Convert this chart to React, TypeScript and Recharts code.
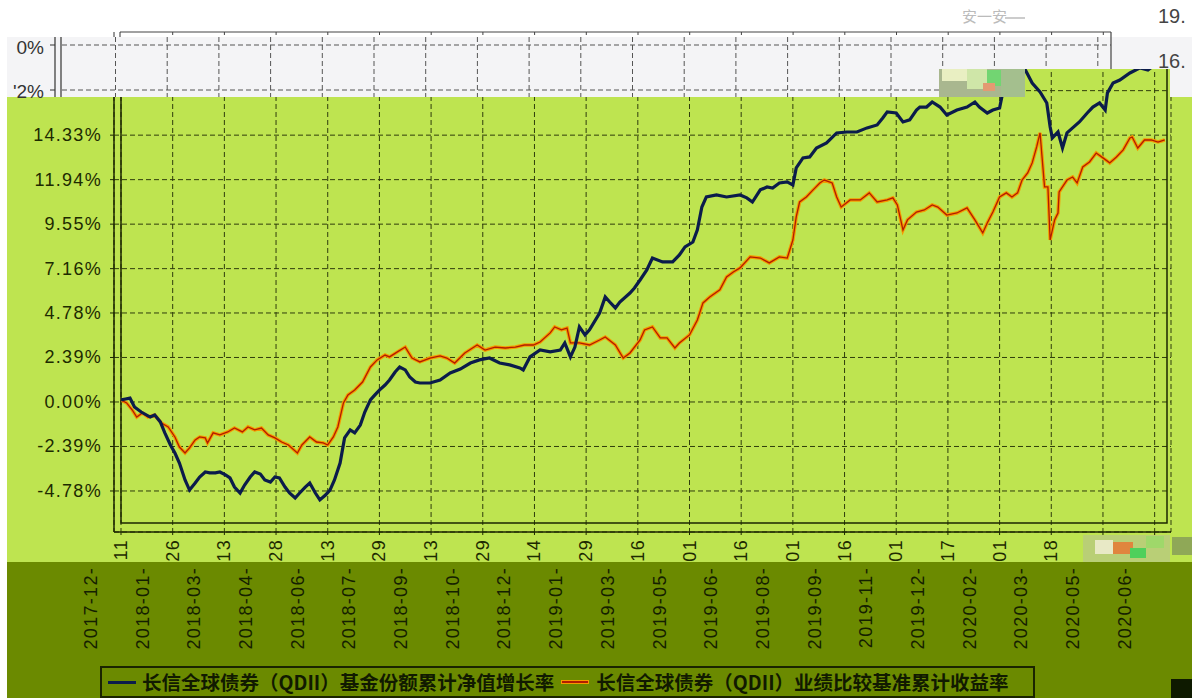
import React from 'react';
import { CartesianGrid, Line, LineChart, ReferenceArea, ReferenceLine, XAxis, YAxis } from 'recharts';

// tick dates every 46 calendar days, starting 2017-12-11
const tickDates = [
  '2017-12-11', '2018-01-26', '2018-03-13', '2018-04-28', '2018-06-13', '2018-07-29', '2018-09-13',
  '2018-10-29', '2018-12-14', '2019-01-29', '2019-03-16', '2019-05-01', '2019-06-16', '2019-08-01',
  '2019-09-16', '2019-11-01', '2019-12-17', '2020-02-01', '2020-03-18', '2020-05-03', '2020-06-18',
];

const yTicks = [-4.78, -2.39, 0, 2.39, 4.78, 7.16, 9.55, 11.94, 14.33];
// upper grid levels whose labels are hidden under the corrupted strip
const hiddenTicks = [16.72, 19.11];

const fundName = '长信全球债券（QDII）基金份额累计净值增长率';
const benchName = '长信全球债券（QDII）业绩比较基准累计收益率';

// days since 2017-12-11
const fundDays = [
  0, 4, 8, 12, 18, 26, 30, 35, 39, 44, 48, 52, 57, 61, 66, 70, 75, 79, 84, 88,
  93, 97, 101, 106, 110, 115, 119, 124, 128, 133, 137, 141, 146, 150, 155, 159, 164, 168, 173, 177,
  182, 186, 190, 195, 199, 204, 208, 213, 217, 222, 226, 230, 235, 239, 244, 248, 253, 257, 262, 266,
  275, 284, 293, 302, 311, 319, 328, 337, 346, 355, 358, 364, 373, 382, 391, 395, 400, 404, 408, 413,
  417, 426, 431, 435, 440, 444, 453, 457, 462, 468, 473, 482, 491, 497, 502, 509, 513, 517, 521, 530,
  539, 551, 557, 562, 569, 575, 580, 586, 593, 598, 601, 607, 613, 619, 628, 637, 646, 655, 664, 673,
  678, 682, 690, 696, 702, 708, 711, 717, 722, 729, 735, 744, 753, 760, 764, 771, 776, 782, 784, 788,
  794, 800, 804, 811, 818, 824, 827, 829, 834, 838, 842, 847, 853, 860, 865, 871, 876, 878, 883, 889,
  898, 907, 914, 920, 925, 929,
];
const fundValues = [
  0.11, 0.16, 0.21, -0.27, -0.54, -0.81, -0.70, -1.07, -1.66, -2.31, -2.74, -3.28, -4.19, -4.73, -4.35, -4.03, -3.76, -3.81, -3.81, -3.76,
  -3.92, -4.08, -4.57, -4.89, -4.46, -4.03, -3.76, -3.87, -4.19, -4.30, -4.03, -4.08, -4.57, -4.89, -5.16, -4.89, -4.57, -4.35, -4.89, -5.26,
  -5.00, -4.73, -4.19, -3.28, -1.93, -1.50, -1.66, -1.24, -0.54, 0.11, 0.38, 0.64, 0.91, 1.18, 1.61, 1.88, 1.72, 1.34, 1.07, 1.02,
  1.02, 1.18, 1.56, 1.77, 2.09, 2.26, 2.36, 2.09, 1.99, 1.83, 1.72, 2.42, 2.79, 2.69, 2.79, 3.17, 2.42, 2.95, 4.03, 3.60,
  3.87, 4.78, 5.64, 5.37, 5.05, 5.37, 5.85, 6.12, 6.55, 7.09, 7.73, 7.52, 7.52, 7.90, 8.33, 8.59, 9.24, 10.47, 11.01, 11.12,
  11.01, 11.12, 10.96, 10.74, 11.39, 11.55, 11.49, 11.76, 11.82, 11.65, 12.57, 13.11, 13.16, 13.64, 13.91, 14.45, 14.50, 14.50, 14.72, 14.88,
  15.25, 15.58, 15.52, 15.04, 15.15, 15.68, 15.84, 15.84, 16.11, 15.84, 15.41, 15.68, 15.84, 16.11, 15.84, 15.52, 15.68, 15.79, 16.38, 17.03,
  17.83, 18.21, 17.94, 17.13, 16.65, 16.06, 14.77, 14.18, 14.50, 13.64, 14.45, 14.72, 15.04, 15.52, 15.84, 16.06, 15.68, 16.60, 17.13, 17.29,
  17.67, 17.94, 17.83, 18.10, 18.26, 18.37,
];

const benchDays = [
  0, 5, 10, 14, 19, 24, 30, 36, 42, 48, 52, 57, 61, 66, 70, 75, 77, 82, 88, 95,
  101, 108, 113, 119, 125, 131, 137, 143, 149, 157, 161, 168, 174, 180, 184, 189, 193, 198, 202, 208,
  215, 222, 228, 235, 239, 246, 253, 259, 266, 275, 284, 290, 297, 306, 317, 324, 333, 342, 351, 359,
  367, 373, 382, 386, 392, 397, 400, 408, 417, 426, 431, 440, 447, 453, 462, 466, 473, 480, 486, 493,
  497, 506, 513, 518, 524, 533, 539, 545, 551, 560, 569, 577, 586, 593, 598, 601, 604, 610, 616, 622,
  626, 633, 637, 641, 649, 658, 666, 673, 682, 687, 691, 696, 700, 708, 715, 722, 727, 735, 744, 753,
  760, 767, 771, 776, 782, 788, 793, 798, 802, 807, 811, 815, 818, 820, 822, 825, 827, 831, 834, 835,
  842, 847, 851, 856, 862, 868, 874, 880, 886, 892, 898, 900, 905, 911, 917, 923, 929,
];
const benchValues = [
  0.11, -0.05, -0.43, -0.81, -0.59, -0.81, -0.70, -1.13, -1.34, -1.88, -2.42, -2.74, -2.47, -2.04, -1.88, -1.93, -2.20, -1.66, -1.77, -1.61,
  -1.40, -1.61, -1.34, -1.50, -1.40, -1.77, -1.93, -2.15, -2.31, -2.74, -2.31, -1.88, -2.15, -2.20, -2.31, -1.88, -1.34, -0.05, 0.38, 0.64,
  1.07, 1.88, 2.26, 2.52, 2.42, 2.69, 2.95, 2.36, 2.15, 2.36, 2.47, 2.36, 2.09, 2.63, 3.06, 2.79, 2.95, 2.90, 2.95, 3.06,
  3.06, 3.22, 3.71, 4.03, 3.87, 3.97, 3.17, 3.17, 3.06, 3.33, 3.49, 3.06, 2.36, 2.63, 3.33, 3.87, 4.03, 3.44, 3.44, 2.90,
  3.17, 3.60, 4.40, 5.32, 5.64, 6.02, 6.71, 6.98, 7.20, 7.79, 7.73, 7.47, 7.79, 7.73, 8.70, 9.94, 10.74, 11.01, 11.39, 11.76,
  11.92, 11.76, 11.01, 10.47, 10.85, 10.85, 11.23, 10.74, 10.85, 10.96, 10.58, 9.24, 9.78, 10.20, 10.31, 10.58, 10.47, 10.04, 10.15, 10.42,
  9.78, 9.08, 9.61, 10.20, 11.01, 11.23, 11.01, 11.23, 11.92, 12.30, 12.84, 13.70, 14.45, 13.00, 11.55, 11.55, 8.70, 9.78, 10.15, 11.28,
  11.92, 12.08, 11.76, 12.62, 12.89, 13.37, 13.11, 12.84, 13.16, 13.54, 14.18, 14.23, 13.64, 14.07, 14.07, 13.96, 14.07,
];

const GREEN = '#bee450';
const OLIVE = '#6b8a00';
const NAVY = '#0b1c4b';
const RED = '#b21d00';
const HALO = '#f59a00';
const INK = '#1d2a00';
const GRID = '#2f3d0c';
const FONT = '"Liberation Sans", Arial, sans-serif';

const DAY_MS = 86400000;
const startMs = Date.parse(tickDates[0]);
const tickDays = tickDates.map(d => Math.round((Date.parse(d) - startMs) / DAY_MS));

const rowMap = new Map<number, { day: number; fund?: number; bench?: number }>();
fundDays.forEach((d, i) => {
  const r = rowMap.get(d) || { day: d };
  r.fund = fundValues[i];
  rowMap.set(d, r);
});
benchDays.forEach((d, i) => {
  const r = rowMap.get(d) || { day: d };
  r.bench = benchValues[i];
  rowMap.set(d, r);
});
const rows = Array.from(rowMap.values()).sort((a, b) => a.day - b.day);

const YTick = (props: any) => {
  const { y, payload } = props;
  return (
    <text x={102} y={y} textAnchor="end" dominantBaseline="central" fontSize={18} letterSpacing={1.3}
      fill={INK} fontFamily={FONT}>
      {Number(payload.value).toFixed(2)}%
    </text>
  );
};

const XTick = (props: any) => {
  const { x, payload } = props;
  const i = tickDays.indexOf(payload.value);
  if (i < 0) return null;
  const label = tickDates[i];
  const month = label.slice(0, 8);
  const day = label.slice(8);
  const mx = x - 30;
  return (
    <g>
      <text transform={`rotate(-90 ${x} 539)`} x={x} y={539} textAnchor="end" dominantBaseline="central"
        fontSize={18} letterSpacing={1.3} fill={INK} fontFamily={FONT}>{day}</text>
      <text transform={`rotate(-90 ${mx} 567)`} x={mx} y={567} textAnchor="end" dominantBaseline="central"
        fontSize={18} letterSpacing={1.3} fill="#142000" fontFamily={FONT}>{month}</text>
    </g>
  );
};

// corrupted strip at the top of the original picture
const stripGridX = Array.from({ length: 20 }, (_, i) => 115.5 + 51.7 * i);
const frameTicksX = Array.from({ length: 19 }, (_, i) => 121 + 51.7 * (i + 1)).filter(x => x < 1111);

export default function App() {
  return (
    <div style={{ position: 'relative', width: 1192, height: 698, background: '#fff', overflow: 'hidden' }}>
      <style>{'body{margin:0}'}</style>
      <div style={{ position: 'absolute', left: 7, top: 37, width: 1185, height: 525, background: GREEN }} />
      <div style={{ position: 'absolute', left: 7, top: 562, width: 1185, height: 136, background: OLIVE }} />

      <div style={{ position: 'absolute', left: 0, top: 0 }}>
        <LineChart width={1192} height={698} data={rows} margin={{ top: 32, right: 21, bottom: 0, left: 0 }}>
          <CartesianGrid stroke={GRID} strokeDasharray="5 3" strokeWidth={1} />
          <XAxis type="number" dataKey="day" domain={[0, 931]} ticks={tickDays} interval={0}
            padding={{ left: 7, right: 4 }} height={166} tickSize={3} allowDataOverflow
            axisLine={{ stroke: '#1c2600', strokeWidth: 1.5 }} tickLine={{ stroke: '#1c2600' }} tick={<XTick />} />
          <YAxis type="number" domain={[-6.5, 19.87]} ticks={yTicks} interval={0} width={114}
            padding={{ top: 0, bottom: 9 }} tickSize={4} allowDataOverflow
            axisLine={{ stroke: '#1c2600', strokeWidth: 1.5 }} tickLine={{ stroke: '#1c2600' }} tick={<YTick />} />
          {hiddenTicks.map(v => (
            <ReferenceLine key={v} y={v} stroke={GRID} strokeDasharray="5 3" />
          ))}
          <ReferenceArea x1={0} x2={931} y1={-6.5} y2={19.87} fill="none" fillOpacity={0}
            stroke="#1c2600" strokeWidth={1.5} ifOverflow="visible" />
          <Line dataKey="bench" type="linear" stroke={HALO} strokeWidth={3.5} dot={false} connectNulls
            isAnimationActive={false} legendType="none" />
          <Line dataKey="bench" name={benchName} type="linear" stroke={RED} strokeWidth={1.3} dot={false}
            connectNulls isAnimationActive={false} />
          <Line dataKey="fund" name={fundName} type="linear" stroke={NAVY} strokeWidth={3.2} dot={false}
            connectNulls isAnimationActive={false} />
        </LineChart>
      </div>

      <svg width={1192} height={698} style={{ position: 'absolute', left: 0, top: 0, pointerEvents: 'none' }}>
        <rect x={0} y={0} width={1192} height={37} fill="#fff" />
        <polygon points="7,37 1192,37 1192,97 1170,97 1170,69 939,69 939,97 7,97" fill="#f4f4f6" />
        <line x1={62} x2={1111} y1={45} y2={45} stroke="#555" strokeDasharray="5 3" />
        <line x1={62} x2={939} y1={90} y2={90} stroke="#555" strokeDasharray="5 3" />
        {stripGridX.map(x => (
          <line key={x} x1={x} x2={x} y1={37} y2={x < 939 ? 97 : 69} stroke="#555" strokeDasharray="5 3" />
        ))}
        <line x1={55} x2={55} y1={37} y2={97} stroke="#333" strokeWidth={1.2} />
        <line x1={61} x2={61} y1={37} y2={97} stroke="#333" strokeWidth={1.2} />
        <line x1={50} x2={55} y1={45} y2={45} stroke="#333" />
        <line x1={50} x2={55} y1={90} y2={90} stroke="#333" />
        <text x={44} y={47} textAnchor="end" dominantBaseline="central" fontSize={19} fill="#333" fontFamily={FONT}>0%</text>
        <text x={44} y={91} textAnchor="end" dominantBaseline="central" fontSize={19} fill="#333" fontFamily={FONT}>'2%</text>
        <line x1={120} x2={1111} y1={32} y2={32} stroke="#444" strokeWidth={1.2} />
        {frameTicksX.map(x => (
          <line key={x} x1={x} x2={x} y1={32} y2={35} stroke="#444" />
        ))}
        <line x1={1111} x2={1111} y1={32} y2={69} stroke="#444" strokeWidth={1.2} />
        <line x1={114} x2={114} y1={32} y2={37} stroke="#333" />
        <line x1={120} x2={120} y1={32} y2={37} stroke="#333" />
        <text x={1158} y={16} dominantBaseline="central" fontSize={20} fill="#444" fontFamily={FONT}>19.</text>
        <text x={1158} y={61} dominantBaseline="central" fontSize={20} fill="#444" fontFamily={FONT}>16.</text>
        <text x={962} y={22} fontSize={15} fill="#bbb" fontFamily='"Noto Sans CJK SC"'>安一安</text>
        <line x1={1005} x2={1025} y1={18} y2={18} stroke="#999" />

        {/* mottled patches */}
        <rect x={939} y={69} width={86} height={28} fill="#a9b78f" />
        <rect x={942} y={69} width={25} height={12} fill="#e9efc2" />
        <rect x={967} y={69} width={20} height={20} fill="#cfe6a8" />
        <rect x={987} y={70} width={14} height={16} fill="#72d572" />
        <rect x={983} y={83} width={12} height={8} fill="#e39a72" />
        <rect x={1001} y={69} width={24} height={28} fill="#a4bf8e" />
        <rect x={1083} y={535} width={87} height={27} fill="#b9cf76" />
        <rect x={1095} y={540} width={18} height={14} fill="#e8e9c6" />
        <rect x={1113} y={542} width={20} height={12} fill="#e0853e" />
        <rect x={1130} y={548} width={16} height={10} fill="#4fd05b" />
        <rect x={1146} y={536} width={18} height={12} fill="#9fd86a" />
        <rect x={1172} y={537} width={20} height={18} fill="#8fa857" />
        <rect x={1171} y={679} width={21} height={19} fill="#0e1a00" />
      </svg>

      <div style={{
        position: 'absolute', left: 100, top: 666, width: 935, height: 32, boxSizing: 'border-box',
        border: '2px solid #1a2400', display: 'flex', alignItems: 'center', whiteSpace: 'nowrap',
        fontFamily: '"Noto Sans CJK SC", sans-serif', fontWeight: 700, fontSize: 19.5, color: '#111a00', lineHeight: 1,
      }}>
        <span style={{ display: 'inline-block', width: 28, height: 3, background: NAVY, marginLeft: 6, marginRight: 6 }} />
        <span>{fundName}</span>
        <span style={{ display: 'inline-block', width: 26, height: 2, background: RED, marginLeft: 8, marginRight: 8, boxShadow: `0 0 0 1px ${HALO}` }} />
        <span>{benchName}</span>
      </div>
    </div>
  );
}
